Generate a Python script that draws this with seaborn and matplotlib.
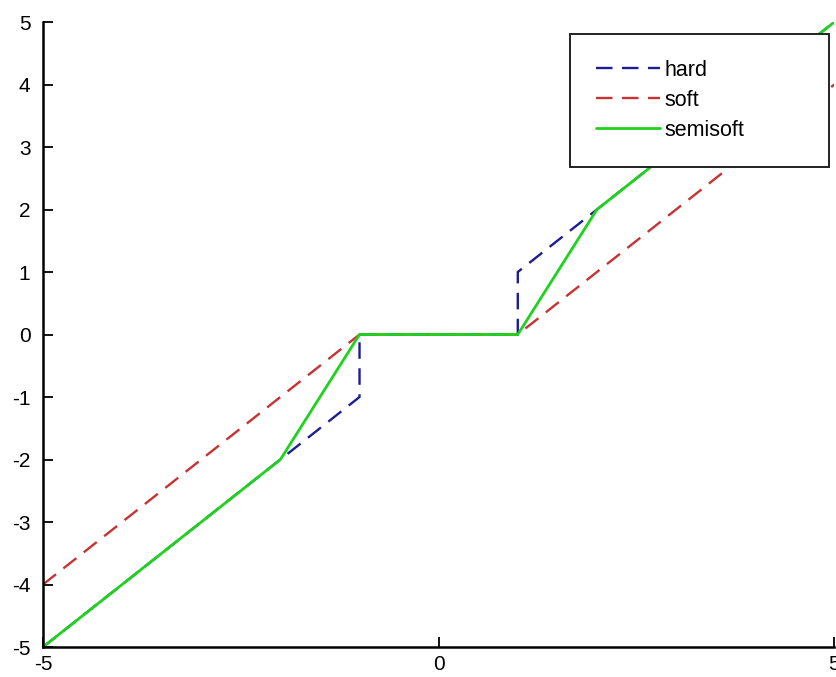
import matplotlib
matplotlib.use("Agg")
import matplotlib.pyplot as plt
import seaborn as sns

# --- dados: funcoes de limiar (lambda1 = 1, lambda2 = 2) ---
x_hard = [-5, -1, -1, 1, 1, 5]
y_hard = [-5, -1, 0, 0, 1, 5]

x_soft = [-5, -1, 1, 5]
y_soft = [-4, 0, 0, 4]

x_semi = [-5, -2, -1, 1, 2, 5]
y_semi = [-5, -2, 0, 0, 2, 5]

x_ticks = [-5, 0, 5]
y_ticks = [-5, -4, -3, -2, -1, 0, 1, 2, 3, 4, 5]

sns.set_style("white")
plt.rcParams['font.family'] = ['Liberation Sans', 'DejaVu Sans']
plt.rcParams['axes.unicode_minus'] = False
plt.rcParams['text.color'] = 'black'

fig = plt.figure(figsize=(8.36, 6.77), dpi=100)
ax = fig.add_axes([0.0514, 0.0443, 0.9466, 0.9232])

sns.lineplot(x=x_hard, y=y_hard, sort=False, estimator=None, ax=ax,
             color='#1c1c96', linewidth=1.7, label='hard')
ax.lines[-1].set_dashes((7, 4))
sns.lineplot(x=x_soft, y=y_soft, sort=False, estimator=None, ax=ax,
             color='#c83232', linewidth=1.7, label='soft')
ax.lines[-1].set_dashes((7, 4))
sns.lineplot(x=x_semi, y=y_semi, sort=False, estimator=None, ax=ax,
             color='#1ed21e', linewidth=2.0, label='semisoft')

ax.set_xlim(-5, 5)
ax.set_ylim(-5, 5)
ax.set_xticks(x_ticks)
ax.set_yticks(y_ticks)
ax.tick_params(direction='in', length=7, width=1.3, labelsize=15,
               left=True, bottom=True, pad=9, colors='black')
ax.tick_params(axis='x', pad=6)
for s in ['top', 'right']:
    ax.spines[s].set_visible(False)
for s in ['left', 'bottom']:
    ax.spines[s].set_color('black')
    ax.spines[s].set_linewidth(1.8)

# caixa da legenda no mesmo lugar da imagem original
leg = ax.legend(loc='upper left',
                bbox_to_anchor=(570 / 836, 1 - 168 / 677, 259 / 836, 134 / 677),
                bbox_transform=fig.transFigure, mode='expand', fontsize=15.5,
                frameon=True, fancybox=False, handlelength=3.0,
                borderpad=1.2, labelspacing=0.42, handletextpad=0.2,
                borderaxespad=0)
leg.get_frame().set_edgecolor('#222222')
leg.get_frame().set_linewidth(1.4)
leg.get_frame().set_alpha(1)
for t in leg.get_texts():
    t.set_color('black')

fig.savefig('out.png', dpi=100)
